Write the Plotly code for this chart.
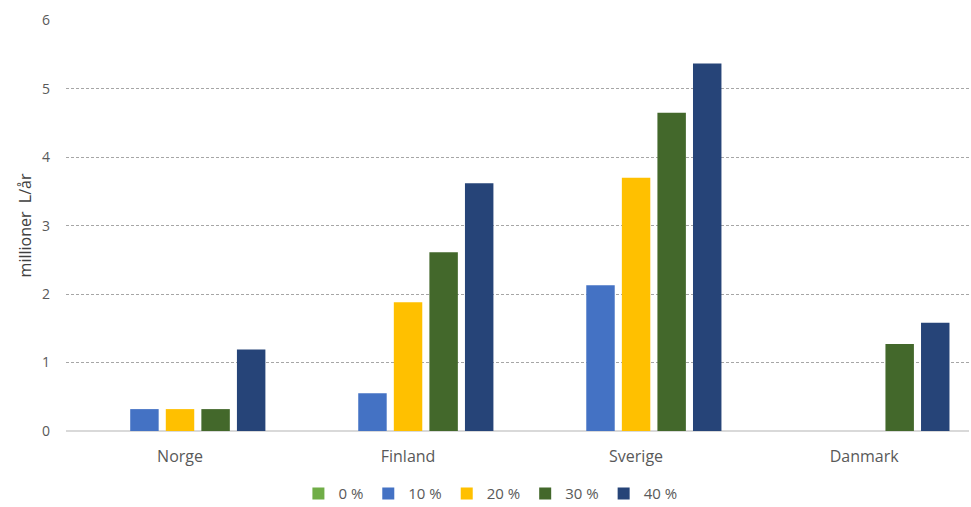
import plotly.graph_objects as go

countries = ["Norge", "Finland", "Sverige", "Danmark"]
series_names = ["0 %", "10 %", "20 %", "30 %", "40 %"]
v0 = [0, 0, 0, 0]
v10 = [0.32, 0.55, 2.13, 0]
v20 = [0.32, 1.88, 3.70, 0]
v30 = [0.32, 2.61, 4.65, 1.27]
v40 = [1.19, 3.62, 5.37, 1.58]
colors = ["#70AD47", "#4472C4", "#FFC000", "#43682B", "#264478"]

fig = go.Figure()
for name, vals, col in zip(series_names, [v0, v10, v20, v30, v40], colors):
    fig.add_trace(go.Bar(
        x=countries, y=vals, name=name,
        marker=dict(color=col, line=dict(width=0)),
    ))

font_family = "'Open Sans', Lato, sans-serif"
fig.update_layout(
    width=971, height=507,
    margin=dict(l=66, r=2, t=20, b=76, autoexpand=False),
    paper_bgcolor="white", plot_bgcolor="white",
    barmode="group", bargap=0.22, bargroupgap=0.2,
    font=dict(family=font_family, color="#595959", size=14),
    showlegend=True,
    legend=dict(orientation="h", x=0.47, xanchor="center", yref="container", y=0.026,
                yanchor="middle",
                font=dict(size=15, color="#595959"), itemwidth=30, tracegroupgap=0,
                traceorder="normal"),
    xaxis=dict(type="category", range=[-0.5, 3.46], showgrid=False, ticks="", automargin=False,
               showline=False, tickfont=dict(size=16, color="#595959"), ticklabelstandoff=14),
    yaxis=dict(range=[0, 6.005], dtick=1, showgrid=True, gridcolor="#A6A6A6", griddash="3px,2px",
               gridwidth=0.8, zeroline=True, zerolinecolor="#D9D9D9", zerolinewidth=1.5,
               showline=False, ticks="", tickfont=dict(size=14, color="#595959"), automargin=False,
               ticklabelstandoff=15,
               title=dict(text="millioner  L/år", font=dict(size=16, color="#404040"), standoff=6)),
)

fig.write_html("out.html")
